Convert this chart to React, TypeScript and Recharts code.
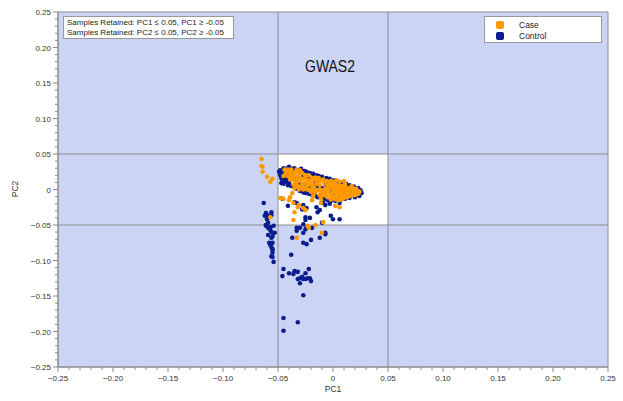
import React from "react";
import {
  ScatterChart,
  Scatter,
  XAxis,
  YAxis,
  ReferenceArea,
  ReferenceLine,
} from "recharts";

// PC1 / PC2 values
const CONTROL: [number, number][] = [
  // left column
  [-0.063, -0.019], [-0.061, -0.033], [-0.06, -0.036], [-0.062, -0.037], [-0.059, -0.039],
  [-0.06, -0.042], [-0.056, -0.036], [-0.056, -0.032], [-0.061, -0.05], [-0.059, -0.047],
  [-0.057, -0.053], [-0.061, -0.051], [-0.059, -0.054], [-0.057, -0.057], [-0.054, -0.051],
  [-0.056, -0.06], [-0.053, -0.061], [-0.055, -0.066], [-0.059, -0.064], [-0.056, -0.068],
  [-0.055, -0.075], [-0.058, -0.075], [-0.057, -0.078], [-0.056, -0.081], [-0.055, -0.084],
  [-0.055, -0.085], [-0.055, -0.089], [-0.056, -0.094], [-0.055, -0.095], [-0.054, -0.102],
  // lower group
  [-0.038, -0.092], [-0.045, -0.112], [-0.046, -0.122], [-0.04, -0.118], [-0.036, -0.119],
  [-0.035, -0.115], [-0.032, -0.116], [-0.028, -0.123], [-0.025, -0.118], [-0.022, -0.112],
  [-0.03, -0.125], [-0.027, -0.126], [-0.021, -0.125], [-0.02, -0.129], [-0.03, -0.132],
  [-0.025, -0.126], [-0.023, -0.125], [-0.032, -0.126], [-0.027, -0.149],
  [-0.045, -0.181], [-0.032, -0.187], [-0.045, -0.199],
  // scattered below the cluster
  [-0.033, -0.054], [-0.027, -0.061], [-0.037, -0.068], [-0.027, -0.075], [-0.024, -0.077],
  [-0.02, -0.071], [-0.012, -0.068], [-0.007, -0.061], [-0.01, -0.047], [-0.027, -0.049],
  [-0.024, -0.053], [-0.041, -0.023], [-0.033, -0.019], [-0.028, -0.028], [-0.024, -0.026],
  [-0.025, -0.039], [-0.03, -0.054], [-0.025, -0.056], [-0.019, -0.054], [-0.033, -0.058],
  [-0.025, -0.043], [-0.021, -0.04], [-0.007, -0.022], [-0.003, -0.02], [-0.002, -0.037],
  [0.0, -0.042], [0.006, -0.042], [-0.007, -0.063], [-0.012, -0.029], [-0.046, -0.013],
  [-0.035, -0.018], [-0.027, -0.022], [-0.015, -0.025], [-0.014, -0.032], [-0.009, -0.019],
  [0.006, -0.019],
  // main cluster, upper edge
  [-0.048, 0.027], [-0.045, 0.03], [-0.043, 0.029], [-0.04, 0.032], [-0.037, 0.029],
  [-0.035, 0.03], [-0.032, 0.027], [-0.029, 0.029], [-0.026, 0.026], [-0.024, 0.025],
  [-0.021, 0.023], [-0.018, 0.022], [-0.015, 0.02], [-0.013, 0.019], [-0.01, 0.018],
  [-0.006, 0.016], [-0.003, 0.015], [0.001, 0.013], [0.005, 0.011], [0.008, 0.009],
  [0.012, 0.008], [0.015, 0.006], [0.019, 0.004], [0.023, 0.002], [0.025, -0.001],
  [0.026, -0.005], [0.024, -0.009], [0.02, -0.011], [0.015, -0.012], [0.011, -0.013],
  [0.006, -0.015],
  // main cluster, left end and lower edge
  [-0.049, 0.025], [-0.048, 0.02], [-0.047, 0.016], [-0.046, 0.012], [-0.045, 0.015],
  [-0.045, 0.008], [-0.043, 0.011], [-0.041, 0.006], [-0.038, 0.005], [-0.035, 0.002],
  [-0.033, 0.001], [-0.03, -0.002], [-0.027, -0.004], [-0.025, -0.005], [-0.022, -0.006],
  [-0.019, -0.008], [-0.016, -0.009], [-0.014, -0.011], [-0.011, -0.012], [-0.008, -0.013],
  [-0.005, -0.015], [-0.002, -0.016], [0.002, -0.016],
  // main cluster, inside
  [-0.041, 0.02], [-0.037, 0.016], [-0.034, 0.013], [-0.03, 0.009], [-0.025, 0.006],
  [-0.021, 0.004], [-0.017, 0.009], [-0.014, 0.005], [-0.01, 0.002], [-0.006, 0.006],
  [-0.003, -0.001], [0.002, -0.005], [0.006, -0.008], [0.011, -0.004], [0.015, 0.001],
  [0.02, -0.004], [-0.027, 0.019], [-0.022, 0.015], [-0.044, 0.025], [-0.035, 0.025],
  [-0.046, 0.022], [-0.044, 0.018], [-0.042, 0.014], [-0.047, 0.009], [-0.04, 0.01],
];

const CASE: [number, number][] = [
  // strays left of the box
  [-0.065, 0.043], [-0.065, 0.033], [-0.064, 0.032], [-0.064, 0.025], [-0.06, 0.018],
  [-0.057, 0.011], [-0.055, 0.015],
  // scattered
  [-0.048, -0.012], [-0.039, -0.011], [-0.037, -0.005], [-0.035, 0.002], [-0.036, -0.019],
  [-0.032, -0.025], [-0.025, -0.029], [-0.035, -0.032], [-0.036, -0.043], [-0.045, -0.013],
  [-0.04, -0.015], [-0.031, -0.022], [-0.027, -0.026], [-0.019, -0.015], [-0.018, -0.009],
  [-0.023, -0.051], [-0.057, -0.039], [-0.016, -0.05], [-0.009, -0.046], [-0.01, -0.061],
  [-0.033, -0.068], [-0.022, -0.054], [-0.011, -0.013], [0.002, -0.023], [0.006, -0.025],
  [-0.011, -0.019],
  // main cluster, upper left part
  [-0.042, 0.026], [-0.039, 0.025], [-0.036, 0.023], [-0.034, 0.025], [-0.031, 0.022],
  [-0.028, 0.023], [-0.025, 0.02], [-0.041, 0.019], [-0.038, 0.018], [-0.035, 0.019],
  [-0.033, 0.018], [-0.03, 0.016], [-0.027, 0.015], [-0.025, 0.016], [-0.022, 0.013],
  [-0.019, 0.016], [-0.034, 0.011], [-0.03, 0.012], [-0.026, 0.009], [-0.023, 0.011],
  [-0.019, 0.011], [-0.015, 0.013], [-0.012, 0.012], [-0.045, 0.019],
  [-0.044, 0.028], [-0.041, 0.028], [-0.038, 0.028], [-0.033, 0.028], [-0.03, 0.027],
  [-0.043, 0.022], [-0.039, 0.022], [-0.022, 0.02], [-0.016, 0.017], [-0.013, 0.016],
  [-0.039, 0.014], [-0.036, 0.014], [-0.032, 0.014], [-0.009, 0.014], [-0.006, 0.012],
  [-0.002, 0.012],
  // main cluster, middle
  [-0.015, 0.008], [-0.012, 0.006], [-0.008, 0.009], [-0.005, 0.011], [-0.001, 0.009],
  [-0.01, -0.001], [-0.006, -0.004], [-0.014, -0.001], [-0.017, 0.002], [-0.021, -0.001],
  [-0.025, 0.002], [-0.028, 0.004],
  [-0.036, 0.007], [-0.033, 0.007], [-0.028, 0.007], [-0.022, 0.007], [-0.018, 0.006],
  [-0.032, 0.004], [-0.024, 0.004], [-0.019, 0.004], [-0.031, 0.0], [-0.027, 0.0],
  [-0.023, 0.0], [-0.018, -0.001], [-0.012, 0.0], [-0.007, 0.001], [-0.02, -0.003],
  [-0.016, -0.004], [-0.011, -0.005], [-0.008, -0.003], [-0.012, -0.008], [-0.009, -0.008],
  // main cluster, dense right part
  [-0.003, 0.006], [0.0, 0.008], [0.003, 0.006], [0.005, 0.005], [0.008, 0.005],
  [0.011, 0.004], [0.014, 0.002], [0.016, 0.001], [0.019, -0.001], [0.022, -0.002],
  [-0.001, 0.002], [0.002, 0.002], [0.005, 0.001], [0.007, -0.001], [0.01, -0.001],
  [0.013, -0.002], [0.015, -0.004], [0.018, -0.005], [0.021, -0.006], [-0.003, -0.005],
  [0.0, -0.004], [0.003, -0.005], [0.005, -0.005], [0.008, -0.006], [0.011, -0.008],
  [0.014, -0.008], [0.016, -0.009], [-0.001, -0.009], [0.002, -0.011], [0.005, -0.011],
  [0.007, -0.012], [0.01, -0.012], [-0.005, -0.011], [0.001, -0.013], [0.005, -0.015],
  [-0.004, 0.001], [-0.005, 0.005], [0.006, 0.011], [0.011, 0.008], [0.017, 0.005],
  [0.023, -0.006], [-0.007, -0.008], [0.003, 0.013], [0.01, 0.012],
  [0.0, 0.004], [0.004, 0.003], [0.009, 0.002], [0.012, 0.001], [0.018, 0.002],
  [0.021, 0.001], [0.024, -0.003], [0.002, -0.002], [0.006, -0.003], [0.012, -0.005],
  [0.017, -0.002], [0.02, -0.008], [0.008, -0.009], [0.013, -0.011], [0.0, -0.01],
  [-0.002, -0.014], [0.003, -0.014], [0.008, -0.014], [-0.004, -0.002], [0.001, 0.011],
];

const MAJOR_TICKS = [-0.25, -0.2, -0.15, -0.1, -0.05, 0, 0.05, 0.1, 0.15, 0.2, 0.25];
const MINOR_TICKS = Array.from({ length: 51 }, (_, i) => Math.round(-25 + i) / 100);
const CUTOFFS = [-0.05, 0.05];

const BG = "#ccd4f5";
const LINE = "#8c8c8c";
const CASE_COLOR = "#ff9900";
const CONTROL_COLOR = "#0b1d8e";
const FONT = "'Liberation Sans', Arial, Helvetica, sans-serif";

const toPoints = (arr: [number, number][]) => arr.map(([x, y]) => ({ x, y }));

const fmt = (v: number) =>
  v === 0 ? "0" : (v < 0 ? "\u2212" : "") + Math.abs(v).toFixed(2);

const isMajor = (v: number) => MAJOR_TICKS.some((t) => Math.abs(t - v) < 1e-6);

const XTick = ({ x, y, payload }: any) => {
  const v = payload.value;
  const major = isMajor(v);
  return (
    <g>
      <line x1={x} x2={x} y1={y} y2={y + (major ? 5 : 3)} stroke={LINE} />
      {major && (
        <text x={x} y={y + 14} textAnchor="middle" fontSize={8} fill="#333" fontFamily={FONT}>
          {fmt(v)}
        </text>
      )}
    </g>
  );
};

const YTick = ({ x, y, payload }: any) => {
  const v = payload.value;
  const major = isMajor(v);
  return (
    <g>
      <line x1={x - (major ? 5 : 3)} x2={x} y1={y} y2={y} stroke={LINE} />
      {major && (
        <text x={x - 7} y={y + 3} textAnchor="end" fontSize={8} fill="#333" fontFamily={FONT}>
          {fmt(v)}
        </text>
      )}
    </g>
  );
};

const Dot = (color: string) => (props: any) =>
  <circle cx={props.cx} cy={props.cy} r={2.3} fill={color} />;

export default function App() {
  return (
    <div
      style={{
        position: "absolute",
        left: 0,
        top: 0,
        width: 623,
        height: 401,
        background: "#fff",
        fontFamily: FONT,
      }}
    >
      <ScatterChart width={623} height={401} margin={{ top: 12, right: 15, bottom: 0, left: 0 }}>
        <XAxis
          type="number"
          dataKey="x"
          domain={[-0.25, 0.25]}
          ticks={MINOR_TICKS}
          interval={0}
          tick={<XTick />}
          tickLine={false}
          tickSize={0}
          tickMargin={0}
          axisLine={{ stroke: LINE }}
          height={34}
          allowDataOverflow
          label={{
            content: () => (
              <text x={333} y={392} textAnchor="middle" fontSize={8.5} fill="#333" fontFamily={FONT}>
                PC1
              </text>
            ),
          }}
        />
        <YAxis
          type="number"
          dataKey="y"
          domain={[-0.25, 0.25]}
          ticks={MINOR_TICKS}
          interval={0}
          tick={<YTick />}
          tickLine={false}
          tickSize={0}
          tickMargin={0}
          axisLine={{ stroke: LINE }}
          width={58}
          allowDataOverflow
          label={{
            content: () => (
              <text
                x={18}
                y={189}
                textAnchor="middle"
                fontSize={8.5}
                fill="#333"
                fontFamily={FONT}
                transform="rotate(-90 18 189)"
              >
                PC2
              </text>
            ),
          }}
        />
        <ReferenceArea x1={-0.25} x2={0.25} y1={-0.25} y2={0.25} fill={BG} fillOpacity={1} stroke={LINE} />
        <ReferenceArea x1={-0.05} x2={0.05} y1={-0.05} y2={0.05} fill="#fff" fillOpacity={1} />
        {CUTOFFS.map((c) => (
          <ReferenceLine key={"x" + c} x={c} stroke={LINE} strokeWidth={1} />
        ))}
        {CUTOFFS.map((c) => (
          <ReferenceLine key={"y" + c} y={c} stroke={LINE} strokeWidth={1} />
        ))}
        <Scatter
          name="Control"
          data={toPoints(CONTROL)}
          shape={Dot(CONTROL_COLOR)}
          isAnimationActive={false}
        />
        <Scatter
          name="Case"
          data={toPoints(CASE)}
          shape={Dot(CASE_COLOR)}
          isAnimationActive={false}
        />
      </ScatterChart>

      <div
        style={{
          position: "absolute",
          left: 63,
          top: 16,
          width: 166,
          height: 20,
          background: "#fff",
          border: "1px solid #999",
          fontSize: 8,
          lineHeight: "10px",
          color: "#222",
          padding: "1px 0 0 3px",
          whiteSpace: "nowrap",
        }}
      >
        <div>Samples Retained: PC1 ≤ 0.05, PC1 ≥ -0.05</div>
        <div>Samples Retained: PC2 ≤ 0.05, PC2 ≥ -0.05</div>
      </div>

      <div
        style={{
          position: "absolute",
          left: 290,
          top: 57,
          width: 80,
          textAlign: "center",
          fontSize: 17,
          color: "#111",
          transform: "scaleX(0.82)",
        }}
      >
        GWAS2
      </div>

      <div
        style={{
          position: "absolute",
          left: 484,
          top: 16,
          width: 116,
          height: 25,
          background: "#fff",
          border: "1px solid #999",
          fontSize: 8.5,
          color: "#222",
        }}
      >
        {[
          { name: "Case", color: CASE_COLOR },
          { name: "Control", color: CONTROL_COLOR },
        ].map((item, i) => (
          <div
            key={item.name}
            style={{ position: "absolute", left: 11, top: 3 + i * 11, display: "flex", alignItems: "center" }}
          >
            <span
              style={{
                display: "inline-block",
                width: 8,
                height: 8,
                borderRadius: 2,
                background: item.color,
                marginRight: 15,
              }}
            />
            <span style={{ lineHeight: "10px" }}>{item.name}</span>
          </div>
        ))}
      </div>
    </div>
  );
}
